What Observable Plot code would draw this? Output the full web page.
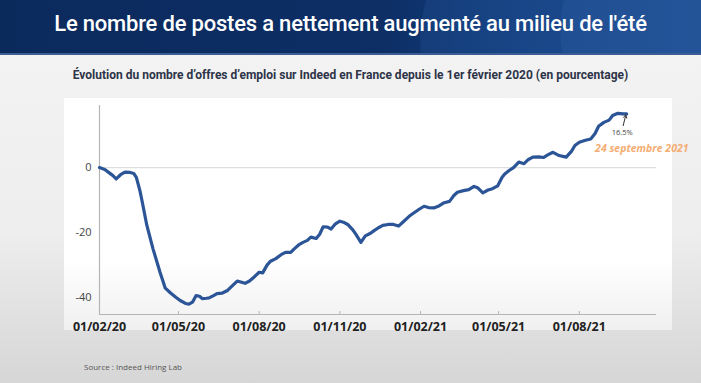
<!DOCTYPE html>
<html><head><meta charset="utf-8">
<script src="https://cdn.jsdelivr.net/npm/d3@7"></script>
<script src="https://cdn.jsdelivr.net/npm/@observablehq/plot@0.6"></script>
<style>
html,body{margin:0;padding:0;}
body{width:701px;height:383px;position:relative;overflow:hidden;font-family:Roboto,"Open Sans",sans-serif;
 background:linear-gradient(180deg,#f4f4f4 0%,#eeeeee 60%,#d6d6d6 100%);}
#banner{position:absolute;left:0;top:0;width:701px;height:55px;overflow:hidden;
 background:linear-gradient(90deg,#0b2a5c 0%,#0d2f66 55%,#143f80 75%,#1b4a8e 100%);}
#banner .sw1{position:absolute;left:420px;top:-160px;width:600px;height:400px;border-radius:50%;background:rgba(40,90,160,0.25);}
#banner .sw2{position:absolute;left:560px;top:-120px;width:400px;height:300px;border-radius:50%;background:rgba(60,110,180,0.2);}
#banner .edge{position:absolute;left:0;bottom:0;width:701px;height:2px;background:#3b5d93;}
#title{position:absolute;left:0;top:11px;width:701px;text-align:center;color:#fff;font-family:Roboto,sans-serif;font-weight:500;font-size:22px;letter-spacing:-0.2px;white-space:nowrap;}
#panel{position:absolute;left:64px;top:98px;width:608px;height:232px;background:linear-gradient(180deg,#ffffff 0%,#ffffff 70%,#f0f0f0 100%);}
#sub{position:absolute;left:0;top:68px;width:701px;text-align:center;color:#2d3447;font-family:Roboto,sans-serif;font-weight:700;font-size:12px;white-space:nowrap;}
#chart{position:absolute;left:0;top:95px;}
#source{position:absolute;left:84px;top:361px;font-family:"Open Sans",sans-serif;font-size:8px;color:#555;}
#chart svg{overflow:visible;}
#chart [aria-label="x-axis tick label"] text{font-weight:700;}
</style></head>
<body>
<div id="banner"><div class="sw1"></div><div class="sw2"></div><div class="edge"></div></div>
<div id="title">Le nombre de postes a nettement augmenté au milieu de l'été</div>
<div id="sub">Évolution du nombre d’offres d’emploi sur Indeed en France depuis le 1er février 2020 (en pourcentage)</div>
<div id="panel"></div>
<div id="chart"></div>
<div id="source">Source : Indeed Hiring Lab</div>
<script>
const dates = ["2020-02-01","2020-02-07","2020-02-11","2020-02-16","2020-02-20","2020-02-25","2020-03-01","2020-03-07","2020-03-11","2020-03-14","2020-03-18","2020-03-20","2020-03-26","2020-04-02","2020-04-10","2020-04-16","2020-04-22","2020-04-28","2020-05-03","2020-05-09","2020-05-13","2020-05-17","2020-05-21","2020-05-25","2020-05-28","2020-06-02","2020-06-05","2020-06-10","2020-06-14","2020-06-20","2020-06-26","2020-07-01","2020-07-07","2020-07-12","2020-07-16","2020-07-21","2020-07-27","2020-08-01","2020-08-05","2020-08-10","2020-08-14","2020-08-20","2020-08-26","2020-08-31","2020-09-06","2020-09-10","2020-09-15","2020-09-20","2020-09-25","2020-09-29","2020-10-05","2020-10-09","2020-10-13","2020-10-18","2020-10-22","2020-10-27","2020-11-01","2020-11-05","2020-11-10","2020-11-15","2020-11-19","2020-11-25","2020-11-30","2020-12-06","2020-12-10","2020-12-15","2020-12-20","2020-12-26","2021-01-01","2021-01-07","2021-01-13","2021-01-19","2021-01-23","2021-01-30","2021-02-05","2021-02-10","2021-02-16","2021-02-22","2021-02-28","2021-03-06","2021-03-11","2021-03-15","2021-03-22","2021-03-28","2021-04-03","2021-04-07","2021-04-13","2021-04-19","2021-04-24","2021-04-30","2021-05-05","2021-05-08","2021-05-13","2021-05-18","2021-05-24","2021-05-30","2021-06-04","2021-06-09","2021-06-16","2021-06-21","2021-06-26","2021-07-02","2021-07-09","2021-07-17","2021-07-23","2021-07-27","2021-08-01","2021-08-08","2021-08-14","2021-08-19","2021-08-23","2021-08-29","2021-09-04","2021-09-08","2021-09-14","2021-09-20","2021-09-24"];
const values = [0,-0.6,-1.4,-2.4,-3.5,-2.2,-1.4,-1.5,-1.8,-3,-7,-9.6,-17.8,-25,-32.2,-37.1,-38.6,-39.9,-40.9,-41.8,-42,-41.4,-39.4,-39.6,-40.3,-40.2,-40.1,-39.4,-38.8,-38.6,-37.8,-36.5,-34.9,-35.3,-35.6,-34.9,-33.5,-32.2,-32.4,-30,-28.8,-28,-26.8,-26.1,-26.1,-25,-23.8,-23,-22.4,-21.4,-21.8,-20.5,-18.2,-18.3,-18.9,-17.3,-16.5,-16.8,-17.5,-18.9,-20.4,-23,-21,-20.2,-19.4,-18.5,-17.8,-17.5,-17.5,-18,-16.5,-15,-14.2,-12.9,-11.9,-12.3,-12.4,-11.8,-10.8,-10.4,-8.6,-7.6,-7.1,-6.8,-5.8,-6.2,-7.8,-6.9,-6.5,-5.6,-3,-2,-0.9,0,1.7,1.2,2.5,3.2,3.3,3.1,3.9,4.7,3.7,3.2,5,6.8,7.8,8.4,8.8,10.5,12.7,13.9,14.6,16,16.7,16.5,16.5];
const xTicks = ["2020-02-01","2020-05-01","2020-08-01","2020-11-01","2021-02-01","2021-05-01","2021-08-01"];
const xTickLabels = ["01/02/20","01/05/20","01/08/20","01/11/20","01/02/21","01/05/21","01/08/21"];
const yTicks = [0,-20,-40];
const xDomain = ["2020-02-01","2021-10-28"];
const yDomain = [-45.2,19.1];
const endLabel = "16.5%";
const dateLabel = "24 septembre 2021";

const data = dates.map((d,i)=>({date:new Date(d), value:values[i]}));
const tickDates = xTicks.map(d=>new Date(d));
const labelOf = new Map(tickDates.map((d,i)=>[+d, xTickLabels[i]]));

const chart = Plot.plot({
  width:701, height:246,
  marginLeft:99, marginRight:45, marginTop:10, marginBottom:27,
  x:{type:"utc", domain:xDomain.map(d=>new Date(d))},
  y:{domain:yDomain},
  style:{background:"transparent", overflow:"visible", fontFamily:"'Open Sans',sans-serif"},
  marks:[
    Plot.ruleY([0],{stroke:"#dedede", strokeWidth:1.2}),
    Plot.ruleX([new Date(xDomain[0])],{stroke:"#b5b5b5", strokeWidth:1.2}),
    Plot.ruleY([yDomain[0]],{stroke:"#b5b5b5", strokeWidth:1.2}),
    Plot.ruleX(tickDates,{y1:yDomain[0], y2:yDomain[0]+0.9, stroke:"#b5b5b5"}),
    Plot.axisY({ticks:yTicks, tickSize:0, tickPadding:8, fontSize:11, fill:"#444", label:null, tickFormat:d=>String(d)}),
    Plot.axisX({ticks:tickDates, tickSize:0, tickPadding:8, fontSize:12.5, fill:"#222", label:null, tickFormat:d=>labelOf.get(+d)}),
    Plot.line(data,{x:"date", y:"value", stroke:"#2c5597", strokeWidth:3.2, strokeLinejoin:"round", strokeLinecap:"round"}),
    Plot.arrow([{x1:new Date("2021-09-20"), y1:12.9, x2:new Date("2021-09-23"), y2:16.2}],{x1:"x1",y1:"y1",x2:"x2",y2:"y2", stroke:"#333", strokeWidth:1, headLength:5}),
    Plot.text([endLabel],{x:new Date("2021-09-19"), y:10.8, fontSize:7.5, fill:"#444"}),
    Plot.text([dateLabel],{x:new Date("2021-08-19"), y:5.8, textAnchor:"start", fontSize:10.5, fontWeight:"bold", fontStyle:"italic", fill:"#f4ad72"})
  ]
});
document.getElementById("chart").appendChild(chart);
</script>
</body></html>
